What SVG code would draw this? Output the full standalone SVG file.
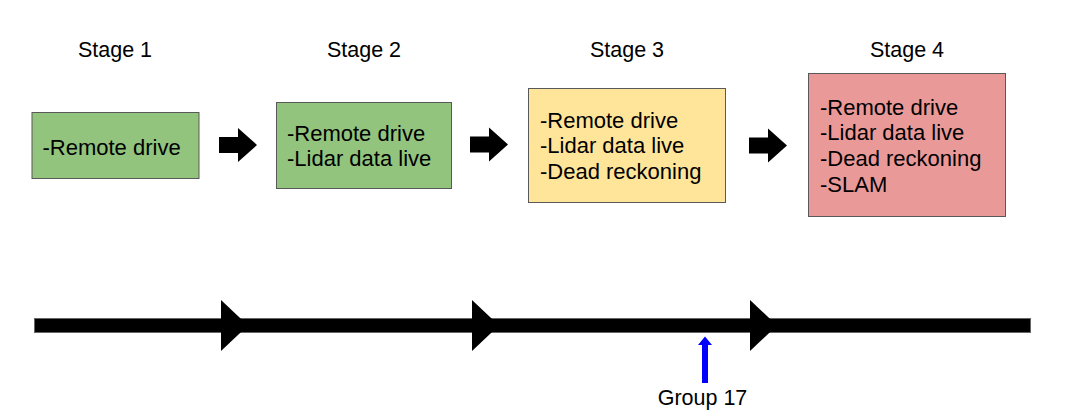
<svg xmlns="http://www.w3.org/2000/svg" width="1085" height="419" viewBox="0 0 1085 419">
<defs>
<style>
.lbl{font-family:"Liberation Sans",Arial,sans-serif;font-size:21.5px;fill:#000;text-anchor:middle}
.txt{font-family:"Liberation Sans",Arial,sans-serif;font-size:22px;fill:#000}
.box{stroke:#595959;stroke-width:1}
.blk{fill:#000}
</style>
<path id="barrow" d="M0,-8 H19 V-17 L38,0 L19,17 V8 H0 Z"/>
<path id="tri" d="M0,-25.5 L27,0 L0,25.5 Z"/>
</defs>
<rect width="1085" height="419" fill="#fff"/>
<g id="labels">
<text class="lbl" x="115" y="57">Stage 1</text>
<text class="lbl" x="364" y="57">Stage 2</text>
<text class="lbl" x="627" y="57">Stage 3</text>
<text class="lbl" x="907" y="57">Stage 4</text>
</g>
<g id="stage1">
<rect class="box" x="32" y="112.5" width="167" height="66" fill="#93c47d"/>
<text class="txt" x="42.5" y="155">-Remote drive</text>
</g>
<g id="stage2">
<rect class="box" x="276.5" y="102.5" width="175" height="86" fill="#93c47d"/>
<text class="txt" x="287" y="140.5">-Remote drive</text>
<text class="txt" x="287" y="166">-Lidar data live</text>
</g>
<g id="stage3">
<rect class="box" x="528.5" y="88.5" width="197" height="114" fill="#ffe599"/>
<text class="txt" x="540" y="127.5">-Remote drive</text>
<text class="txt" x="540" y="153">-Lidar data live</text>
<text class="txt" x="540" y="178.5">-Dead reckoning</text>
</g>
<g id="stage4">
<rect class="box" x="808.5" y="73.5" width="197" height="143" fill="#ea9999"/>
<text class="txt" x="820" y="114.5">-Remote drive</text>
<text class="txt" x="820" y="140.2">-Lidar data live</text>
<text class="txt" x="820" y="165.9">-Dead reckoning</text>
<text class="txt" x="820" y="191.5">-SLAM</text>
</g>
<g id="connectors">
<use href="#barrow" class="blk" x="219" y="145"/>
<use href="#barrow" class="blk" x="470" y="144.5"/>
<use href="#barrow" class="blk" x="749" y="145.5"/>
</g>
<g id="timeline">
<rect x="34.5" y="318.5" width="996" height="14" fill="#000" stroke="#666" stroke-width="1"/>
<use href="#tri" class="blk" x="221" y="325.5"/>
<use href="#tri" class="blk" x="472" y="325.5"/>
<use href="#tri" class="blk" x="750" y="325.5"/>
</g>
<g id="group17">
<path d="M702,383 V345 H698 L705,336.5 L712,345 H708 V383 Z" fill="#0000ff"/>
<text class="lbl" x="702.5" y="405">Group 17</text>
</g>
</svg>
